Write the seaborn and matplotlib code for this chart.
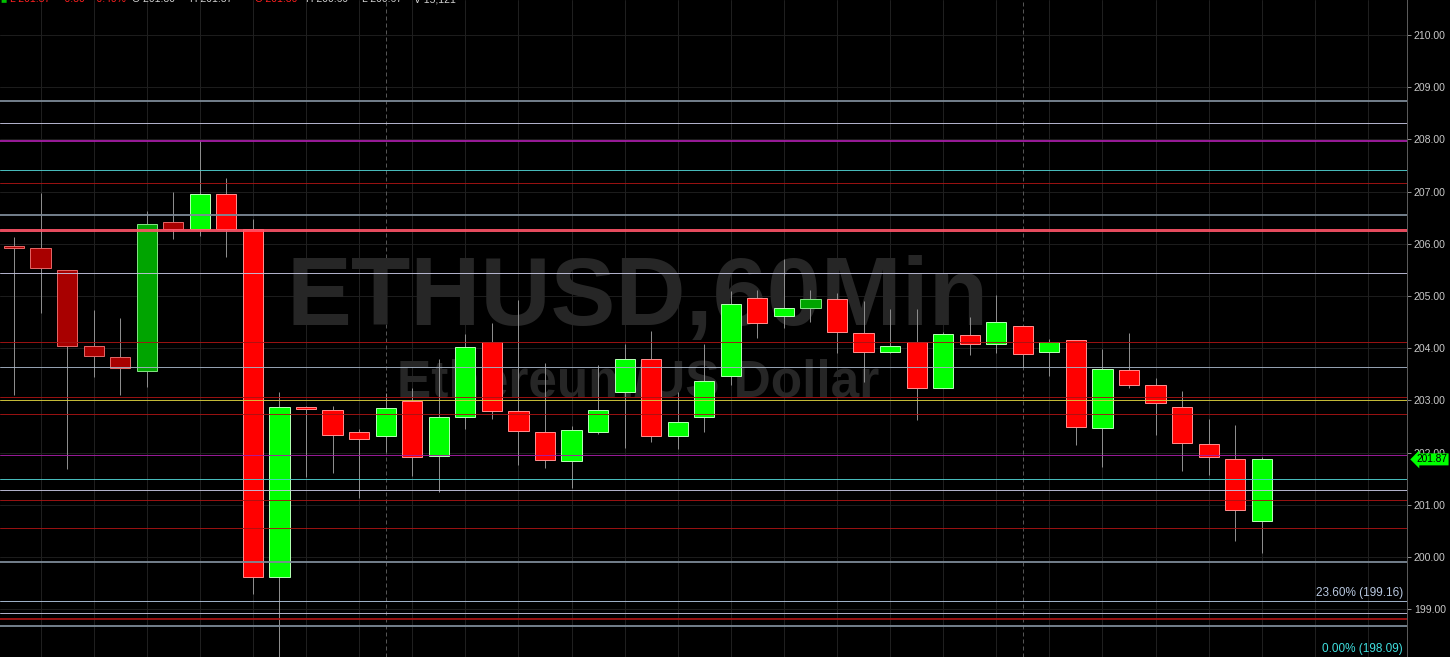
import pandas as pd
import seaborn as sns
import matplotlib.pyplot as plt

# OHLC values (60 min candles)
opens = [205.94, 205.92, 205.50, 204.04, 203.83, 203.56, 206.42, 206.28, 206.95, 206.28,
         199.62, 202.87, 202.82, 202.39, 202.32, 202.99, 201.93, 202.68, 204.12, 202.80,
         202.39, 201.84, 202.39, 203.16, 203.79, 202.32, 202.68, 203.47, 204.96, 204.62,
         204.77, 204.94, 204.29, 203.93, 204.12, 203.24, 204.25, 204.08, 204.43, 203.93,
         204.16, 202.47, 203.58, 203.29, 202.87, 202.16, 201.88, 200.69]
highs = [206.13, 206.97, 205.50, 204.73, 204.58, 206.63, 206.99, 207.99, 207.26, 206.48,
         203.16, 202.90, 202.89, 202.45, 203.14, 203.24, 203.79, 204.27, 204.48, 204.92,
         203.72, 202.51, 203.68, 204.08, 204.33, 203.16, 204.08, 205.10, 205.11, 205.71,
         205.11, 205.06, 204.90, 204.75, 204.75, 204.31, 204.60, 205.02, 204.43, 204.18,
         204.16, 203.98, 204.29, 203.43, 203.18, 202.64, 202.53, 201.92]
lows = [203.10, 204.67, 201.69, 203.45, 203.10, 203.26, 206.09, 206.15, 205.75, 199.29,
        198.09, 201.53, 201.61, 201.13, 202.01, 201.55, 201.25, 202.45, 202.65, 201.76,
        201.70, 201.32, 202.36, 202.09, 202.20, 202.07, 202.39, 203.30, 204.20, 204.39,
        204.50, 203.91, 203.35, 203.91, 202.62, 203.24, 203.87, 203.91, 203.64, 203.47,
        202.15, 201.72, 203.24, 202.34, 201.65, 201.57, 200.31, 200.08]
closes = [205.92, 205.54, 204.04, 203.85, 203.62, 206.38, 206.28, 206.95, 206.28, 199.62,
          202.87, 202.84, 202.34, 202.26, 202.85, 201.92, 202.68, 204.02, 202.80, 202.41,
          201.86, 202.43, 202.82, 203.79, 202.32, 202.59, 203.37, 204.85, 204.48, 204.77,
          204.94, 204.31, 203.93, 204.04, 203.24, 204.27, 204.08, 204.50, 203.89, 204.12,
          202.49, 203.60, 203.29, 202.95, 202.18, 201.92, 200.90, 201.87]
# candles drawn in the darker shade
dim = [0, 1, 2, 3, 4, 5, 6, 30]

# horizontal levels (price, colour, width in px)
level_prices = [208.74, 208.31, 207.97, 207.41, 207.16, 206.55, 206.26, 205.44, 204.12, 203.64,
                203.07, 203.01, 202.74, 201.95, 201.49, 201.28, 201.09, 200.56, 199.90, 199.16,
                198.93, 198.81, 198.68, 198.09]
level_colors = ['#7d8a98', '#c4c4e0', '#a61ea6', '#4fd0d0', '#a81414', '#7d8a98', '#ff5468', '#c4c4e0',
                '#a81414', '#a4b2c4', '#a81414', '#d8cc3c', '#a81414', '#a61ea6', '#4fd0d0', '#c4c4e0',
                '#a81414', '#a81414', '#7d8a98', '#b0c4de', '#c4c4e0', '#a81414', '#7d8a98', '#40e0e0']
level_widths = [2, 1, 2, 1, 1, 2, 3, 1, 1, 1, 1, 1, 1, 1, 1, 1, 1, 1, 2, 1, 1, 2, 2, 1]

price_ticks = [199, 200, 201, 202, 203, 204, 205, 206, 207, 208, 209, 210]
last_price = 201.87

df = pd.DataFrame({"Open": opens, "High": highs, "Low": lows, "Close": closes})
df["Bar"] = range(len(df))

sns.set_theme(style="dark", rc={"axes.facecolor": "black", "figure.facecolor": "black"})
plt.rcParams['font.family'] = ['Liberation Sans', 'DejaVu Sans']

px = 0.72  # one pixel in points at dpi 100
fig = plt.figure(figsize=(14.5, 6.57), dpi=100)
ax = fig.add_axes([0, 0, 1407 / 1450, 1])
ax.set_facecolor('black')
ax.set_xlim(-0.527, 52.47)
ax.set_ylim(198.084, 210.670)

# grid
for p in price_ticks:
    ax.axhline(p, color='#1c1c1c', lw=px, zorder=0)
for i in range(1, 53, 2):
    ax.axvline(i, color='#1f1f1f', lw=px, zorder=0)
for i in [14, 38]:
    ax.axvline(i, color='#555555', lw=px, ls=(0, (4, 3)), zorder=0)

# watermark
ax.text(23.5, 204.44, "ETHUSD,60Min", fontsize=70, fontweight='bold', color='#262626',
        ha='center', va='baseline', zorder=0.5)
ax.text(23.5, 203.07, "Ethereum/US Dollar", fontsize=37, fontweight='bold', color='#262626',
        ha='center', va='baseline', zorder=0.5)

# candles
for _, r in df.iterrows():
    i = int(r["Bar"])
    up = r["Close"] >= r["Open"]
    if i in dim:
        fc, ec = ('#00a400', '#80e080') if up else ('#a80000', '#e06464')
    else:
        fc, ec = ('#00ff00', '#b0ffb0') if up else ('#ff0000', '#ff8a8a')
    ax.vlines(i, r["Low"], r["High"], color='#8c8c8c', lw=px, zorder=2)
    lo = min(r["Open"], r["Close"])
    h = max(abs(r["Close"] - r["Open"]), 0.03)
    ax.bar(i, h, bottom=lo, width=0.76, color=fc, edgecolor=ec, linewidth=px, zorder=3)

# levels
for p, c, w in zip(level_prices, level_colors, level_widths):
    ax.axhline(p, color=c, lw=w * px, alpha=0.9, zorder=4)

# fib labels
ax.text(1403 / 1407, 199.20, "23.60% (199.16)", transform=ax.get_yaxis_transform(),
        ha='right', va='bottom', fontsize=8.5, color='#b8c8e0', zorder=5)
ax.text(1403 / 1407, 198.13, "0.00% (198.09)", transform=ax.get_yaxis_transform(),
        ha='right', va='bottom', fontsize=8.5, color='#40e0e0', zorder=5)

# axis on the right
for s in ['left', 'top', 'bottom']:
    ax.spines[s].set_visible(False)
ax.spines['right'].set_color('#5a5a5a')
ax.spines['right'].set_linewidth(px)
ax.yaxis.tick_right()
ax.set_yticks(price_ticks)
ax.set_yticklabels([f"{p:.2f}" for p in price_ticks])
ax.tick_params(axis='y', colors='#c8c8c8', labelsize=7.6, length=3, width=px, pad=2,
               direction='out', right=True)
ax.tick_params(axis='y', which='both', color='#8a8a8a')
ax.set_xticks([])

# last price tag
ax.text(1.0068, last_price, f"{last_price:.2f}", transform=ax.get_yaxis_transform(),
        ha='left', va='center', fontsize=7.3, color='black', zorder=6, clip_on=False,
        bbox=dict(boxstyle='larrow,pad=0.1', fc='#00ff00', ec='none'))

# header strip (mostly cut off at the top edge)
header = [(0.0, "\u25a0", '#00c000'), (10, "L 201.87", '#ff2020'), (62, "-0.80", '#ff2020'),
          (94, "-0.40%", '#ff2020'), (132, "O 201.80", '#d0d0d0'), (190, "H 201.87", '#d0d0d0'),
          (255, "C 201.80", '#ff2020'), (306, "H 200.69", '#d0d0d0'), (362, "L 200.67", '#d0d0d0'),
          (414, "V 15,121", '#d0d0d0')]
for x, t, c in header:
    fig.text(x / 1450, 1.001, t, fontsize=7.5, color=c, ha='left', va='center')

plt.savefig("out.png", dpi=100, facecolor='black')
